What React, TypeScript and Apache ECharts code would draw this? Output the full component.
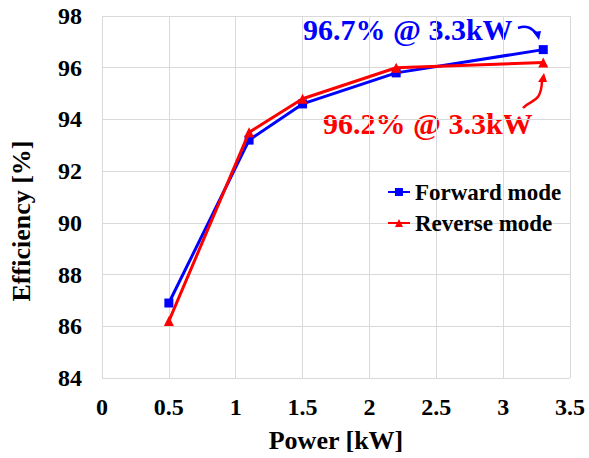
import React, { useEffect, useRef } from "react";
import * as echarts from "echarts";

const powerKW = [0.5, 1.1, 1.5, 2.2, 3.3];
const forwardEff = [86.9, 93.2, 94.6, 95.8, 96.7];
const reverseEff = [86.2, 93.5, 94.8, 96.0, 96.2];
const seriesNames = ["Forward mode", "Reverse mode"];
const forwardNote = "96.7% @ 3.3kW";
const reverseNote = "96.2% @ 3.3kW";

const FONT = "Liberation Serif";
const BLUE = "#0000ff";
const RED = "#ff0000";

export default function App() {
  const ref = useRef<HTMLDivElement>(null);
  useEffect(() => {
    if (!ref.current) return;
    const chart = echarts.init(ref.current, undefined, { renderer: "svg" });
    const toPairs = (ys: number[]) => powerKW.map((x, i) => [x, ys[i]]);
    chart.setOption({
      animation: false,
      backgroundColor: "#ffffff",
      grid: { left: 102, right: 19, top: 16, bottom: 76 },
      xAxis: {
        type: "value",
        min: 0,
        max: 3.5,
        interval: 0.5,
        name: "Power [kW]",
        nameLocation: "middle",
        nameGap: 49,
        nameTextStyle: { fontFamily: FONT, fontWeight: "bold", fontSize: 26, color: "#000" },
        axisLine: { show: false },
        axisTick: { show: false },
        axisLabel: { fontFamily: FONT, fontWeight: "bold", fontSize: 24, color: "#000", margin: 17 },
        splitLine: { show: true, lineStyle: { color: "#d9d9d9", width: 1 } },
      },
      yAxis: {
        type: "value",
        min: 84,
        max: 98,
        interval: 2,
        name: "Efficiency [%]",
        nameLocation: "middle",
        nameGap: 68,
        nameTextStyle: {
          fontFamily: FONT,
          fontWeight: "bold",
          fontSize: 26,
          color: "#000",
          padding: [0, 48, 0, 0],
        },
        axisLine: { show: false },
        axisTick: { show: false },
        axisLabel: { fontFamily: FONT, fontWeight: "bold", fontSize: 24, color: "#000", margin: 20 },
        splitLine: { show: true, lineStyle: { color: "#d9d9d9", width: 1 } },
      },
      legend: {
        orient: "vertical",
        left: 387,
        top: 180,
        padding: 0,
        itemWidth: 22,
        itemHeight: 10,
        itemGap: 7,
        textStyle: { fontFamily: FONT, fontWeight: "bold", fontSize: 23, color: "#000", lineHeight: 24 },
        data: seriesNames,
      },
      series: [
        {
          name: seriesNames[0],
          type: "line",
          data: toPairs(forwardEff),
          symbol: "rect",
          symbolSize: 9,
          lineStyle: { color: BLUE, width: 3 },
          itemStyle: { color: BLUE },
          z: 2,
        },
        {
          name: seriesNames[1],
          type: "line",
          data: toPairs(reverseEff),
          symbol: "triangle",
          symbolSize: 10,
          lineStyle: { color: RED, width: 3 },
          itemStyle: { color: RED },
          z: 3,
        },
      ],
      graphic: [
        {
          type: "text",
          left: 303,
          top: 14,
          style: { text: forwardNote, fill: BLUE, fontFamily: FONT, fontWeight: "bold", fontSize: 30 },
        },
        {
          type: "text",
          left: 323,
          top: 108,
          style: { text: reverseNote, fill: RED, fontFamily: FONT, fontWeight: "bold", fontSize: 30 },
        },
        {
          type: "bezierCurve",
          shape: { x1: 518, y1: 28, cpx1: 527, cpy1: 25, cpx2: 531, cpy2: 28, x2: 536, y2: 33 },
          style: { stroke: BLUE, lineWidth: 2.5, fill: "none" },
        },
        {
          type: "polygon",
          shape: { points: [[533, 32], [541, 31], [539, 40]] },
          style: { fill: BLUE },
        },
        {
          type: "bezierCurve",
          shape: { x1: 523, y1: 108, cpx1: 531, cpy1: 99, cpx2: 541, cpy2: 104, x2: 542, y2: 81 },
          style: { stroke: RED, lineWidth: 2.5, fill: "none" },
        },
        {
          type: "polygon",
          shape: { points: [[544, 73], [538, 82], [547, 82]] },
          style: { fill: RED },
        },
      ],
    });
    return () => chart.dispose();
  }, []);
  return <div ref={ref} style={{ width: 589, height: 458, position: "absolute", left: 0, top: 0 }} />;
}
